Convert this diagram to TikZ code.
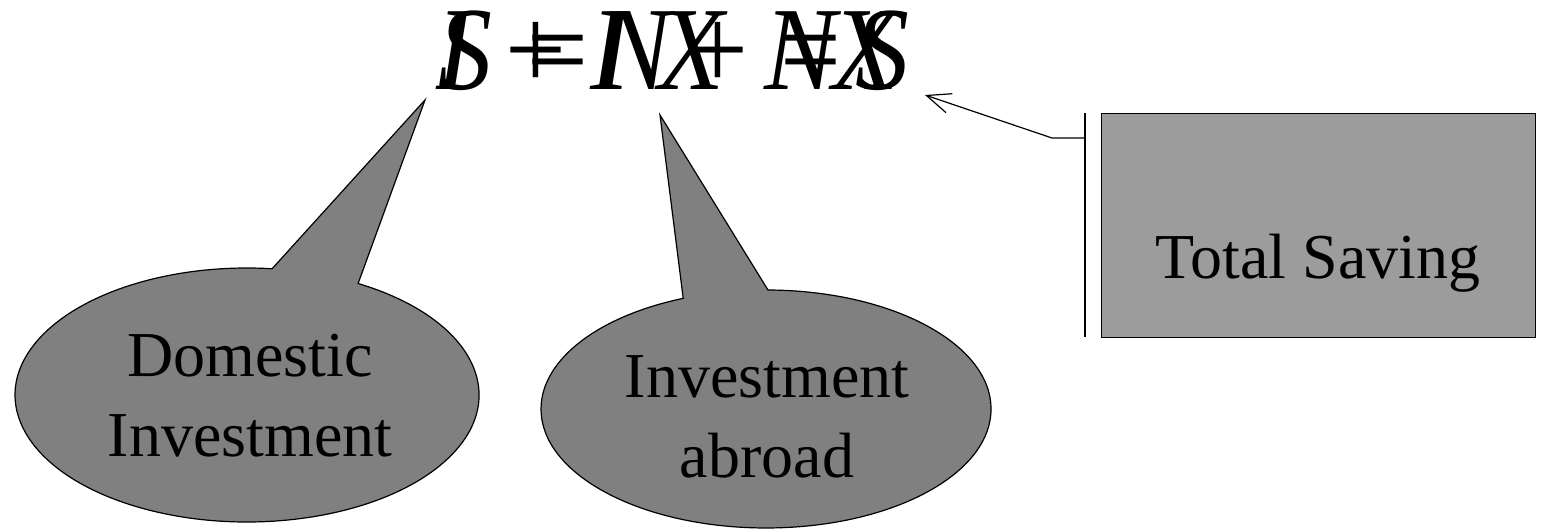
\documentclass[tikz,border=0pt]{standalone}
\usepackage{fontspec}
\setmainfont{Liberation Serif}
\usetikzlibrary{arrows.meta}
\definecolor{bubblegray}{RGB}{128,128,128}
\definecolor{boxgray}{RGB}{156,156,156}
\newcommand{\gl}[2]{\makebox[#1pt][l]{#2}}
\newcommand{\tallbox}[1]{\scalebox{1}[1.1]{#1}}
\begin{document}
\begin{tikzpicture}[x=1pt,y=-1pt,
  outline/.style={draw=black,line width=1.2pt},
  labeltext/.style={font=\fontsize{64}{80}\selectfont, align=center, inner sep=0pt},
  eqtext/.style={font=\fontsize{108}{108}\selectfont, inner sep=0pt, anchor=base west}]
\useasboundingbox (0,0) rectangle (1543,529);
% callout 1: Domestic Investment
\coordinate (tipA) at (425,100);
\filldraw[outline, fill=bubblegray, line join=miter]
  (358.1,283.5) arc[start angle=-61.4, end angle=276.2, x radius=232, y radius=127]
  -- (tipA) -- cycle;
\node[labeltext] (dom) at (250,396) {Domestic\\Investment};
% callout 2: Investment abroad
\coordinate (tipB) at (660,115);
\filldraw[outline, fill=bubblegray, line join=miter]
  (768.0,290.0) arc[start angle=-89.5, end angle=248.4, x radius=225, y radius=119]
  -- (tipB) -- cycle;
\node[labeltext] (abr) at (767,417) {Investment\\abroad};
% Total saving box
\node[outline, fill=boxgray, minimum width=434pt, minimum height=224pt, anchor=north west, inner sep=0pt] (sav) at (1101,113) {};
\node[labeltext, anchor=base] (savtext) at (1318,279) {Total Saving};
% accent bar and connector
\coordinate (barTop) at (1085,113);
\coordinate (barBot) at (1085,337);
\coordinate (barMid) at (1085,138);
\coordinate (elbow) at (1052,138);
\coordinate (eqTip) at (925,95);
\draw[outline] (barTop) -- (barBot);
\draw[outline, -{Straight Barb[length=24pt,width=20pt,line width=1.2pt]}] (barMid) -- (elbow) -- (eqTip);
% overlapping equations
\node[eqtext] (eqA) at (438,90) {\tallbox{\gl{89}{\textit{S}}\gl{63}{=}\gl{97}{\textit{I}}\gl{77}{+}\gl{68}{\textit{N}}\textit{X}}};
\node[eqtext] (eqB) at (436,90) {\tallbox{\gl{69}{\textit{I}}\gl{93}{+}\gl{60}{\textit{N}}\gl{122}{\textit{X}}\gl{75}{=}\textit{S}}};
\end{tikzpicture}
\end{document}
